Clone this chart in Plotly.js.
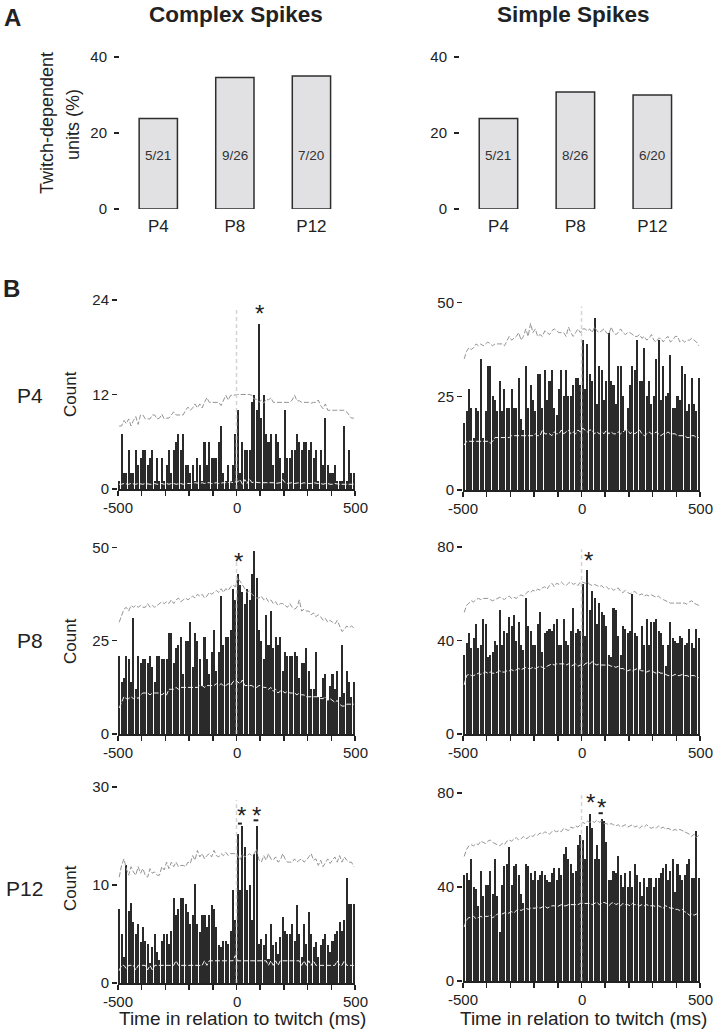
<!DOCTYPE html>
<html><head><meta charset="utf-8">
<script src="https://cdn.plot.ly/plotly-3.0.1.min.js"></script>
<style>html,body{margin:0;padding:0;background:#fff}#chart{width:713px;height:1032px}</style>
</head><body><div id="chart"></div>
<script>
// ---------- Panel A data ----------
const groups = ['P4', 'P8', 'P12'];
const csPercent = [23.8, 34.6, 35.0];
const ssPercent = [23.8, 30.8, 30.0];
const csFractions = ['5/21', '9/26', '7/20'];
const ssFractions = ['5/21', '8/26', '6/20'];

// ---------- Panel B data (10-ms bins from -500 to 500 ms) ----------
const firstBinCenter = -495, binWidth = 10;
const timeTicks = [-500, -400, -300, -200, -100, 0, 100, 200, 300, 400, 500];
const timeLabelVals = [-500, 0, 500];
const timeLabelText = ['-500', '0', '500'];

const csP4Counts = [
  1, 7, 2, 2, 5, 2, 2, 5, 3, 4,
  5, 5, 3, 4, 5, 1, 4, 1, 4, 1,
  3, 5, 2, 5, 6, 7, 5, 7, 3, 3,
  2, 3, 1, 4, 3, 1, 6, 3, 6, 4,
  4, 4, 6, 8, 2, 1, 3, 1, 3, 7,
  10, 2, 6, 5, 5, 5, 11, 12, 10, 21,
  9, 12, 7, 6, 7, 3, 7, 6, 4, 2,
  10, 4, 4, 5, 5, 7, 6, 5, 6, 6,
  5, 6, 4, 5, 1, 5, 3, 9, 3, 2,
  2, 3, 1, 1, 1, 8, 1, 5, 2, 2];
const csP4Upper = [
  8.0, 8.0, 8.7, 8.3, 8.9, 8.0, 8.7, 9.2, 8.2, 9.4,
  9.4, 8.9, 8.9, 8.9, 9.4, 9.4, 8.9, 9.0, 9.5, 8.9,
  9.0, 9.0, 9.4, 9.8, 9.4, 9.4, 9.4, 9.4, 10.0, 10.4,
  10.0, 10.3, 10.8, 10.3, 10.8, 10.3, 11.0, 11.6, 11.0, 11.0,
  11.0, 11.0, 11.0, 10.6, 11.2, 11.9, 11.3, 11.9, 11.9, 12.0,
  12.0, 12.0, 12.0, 12.0, 12.0, 12.0, 11.9, 11.4, 11.4, 11.0,
  11.3, 10.9, 11.4, 11.3, 11.6, 11.0, 11.0, 11.0, 11.0, 11.0,
  11.0, 11.0, 11.0, 11.3, 11.9, 11.2, 11.2, 11.0, 11.0, 11.0,
  11.0, 10.9, 11.0, 11.0, 11.3, 10.6, 10.2, 10.8, 10.0, 10.0,
  10.0, 10.0, 10.0, 10.0, 10.0, 10.0, 9.8, 9.4, 9.0, 9.0];
const csP4Lower = [
  0.6, 0.6, 0.7, 0.6, 0.6, 0.7, 0.6, 0.6, 0.7, 0.6,
  0.6, 0.7, 0.6, 0.6, 0.6, 0.7, 0.6, 0.6, 0.7, 0.6,
  0.7, 0.6, 0.7, 0.7, 0.6, 0.7, 0.7, 0.6, 0.7, 0.7,
  0.7, 0.7, 0.8, 0.7, 0.7, 0.8, 0.7, 0.8, 0.8, 0.7,
  0.8, 0.8, 0.7, 0.8, 0.8, 0.8, 0.8, 0.9, 0.8, 0.9,
  0.9, 1.2, 0.6, 1.2, 0.7, 1.3, 0.8, 0.9, 0.8, 0.8,
  0.8, 0.8, 0.8, 0.8, 0.8, 0.8, 0.7, 0.8, 0.8, 1.2,
  0.8, 0.7, 0.8, 0.8, 0.7, 0.8, 0.8, 0.7, 0.8, 0.7,
  0.7, 0.7, 0.8, 0.7, 0.7, 0.7, 0.6, 0.7, 0.7, 0.6,
  0.6, 0.7, 0.6, 0.6, 0.6, 0.6, 0.6, 0.6, 0.6, 0.6];

const ssP4Counts = [
  18, 21, 27, 22, 14, 22, 21, 35, 14, 21,
  33, 33, 25, 24, 21, 29, 21, 27, 22, 22,
  27, 22, 22, 30, 19, 16, 33, 22, 28, 24,
  21, 31, 31, 22, 32, 24, 29, 32, 22, 20,
  27, 32, 25, 32, 25, 25, 28, 30, 30, 28,
  40, 27, 39, 31, 29, 46, 23, 33, 32, 24,
  29, 42, 29, 28, 23, 33, 33, 25, 16, 22,
  28, 33, 32, 40, 29, 29, 38, 25, 29, 23,
  25, 35, 40, 24, 33, 25, 26, 36, 22, 22,
  25, 24, 33, 31, 21, 23, 30, 23, 21, 30];
const ssP4Upper = [
  35, 37, 38, 37.5, 38, 39, 38.5, 39, 38.5, 39,
  39.5, 39, 38.5, 39, 39, 39, 39, 38.5, 40, 41,
  40, 40.5, 41, 42, 40, 41, 43, 41, 44.5, 42,
  43, 41, 41.5, 41, 42.5, 42, 41.5, 42.5, 43, 42.5,
  42, 42, 42, 41, 43.5, 42, 41, 42, 43, 42,
  43, 43, 42.5, 43, 42, 43.5, 42.5, 42, 42.5, 43,
  42, 41.5, 43.5, 42, 41.5, 42, 43, 42, 41.5, 42,
  42, 41.5, 41, 41, 41.5, 40.5, 41, 40, 40.5, 41.5,
  40, 39.5, 40.5, 40.5, 39.5, 40.5, 41, 39.5, 40, 41,
  41, 39.5, 40, 39.5, 40, 40, 40.5, 40, 39.5, 38.5];
const ssP4Lower = [
  12, 13, 13, 13, 13, 13, 13, 12.8, 13, 13,
  13, 12.5, 13, 14, 14, 14, 14, 14, 14, 14,
  14.5, 14.5, 14.5, 14.5, 14.5, 14.5, 14.5, 14.5, 14.5, 14.5,
  15, 14.5, 14.5, 16, 15, 15, 15, 14.5, 15.5, 15,
  15, 16, 15, 15.5, 16, 15, 15.5, 15, 16, 15.5,
  16.5, 16, 15.5, 16, 16, 15, 15.5, 15, 15.5, 15,
  16, 15, 15.5, 15, 15, 15.5, 15, 15.5, 16, 16,
  15, 15.5, 15, 15.5, 16, 15, 14.5, 15, 15.5, 15,
  15, 15.5, 15, 14.5, 15, 15, 15.5, 15, 15, 15,
  14.5, 14.5, 14.5, 14.5, 14, 14, 14.5, 14.5, 14, 14];

const csP8Counts = [
  21, 14, 15, 21, 20, 14, 31, 12, 21, 19,
  20, 20, 19, 21, 18, 14, 21, 21, 20, 20,
  20, 27, 27, 19, 23, 24, 26, 16, 25, 25,
  30, 18, 27, 25, 20, 13, 26, 20, 16, 22,
  28, 17, 22, 37, 24, 26, 26, 28, 39, 36,
  43, 40, 38, 35, 39, 36, 43, 49, 42, 28,
  25, 20, 32, 24, 33, 23, 26, 24, 26, 17,
  22, 21, 21, 21, 22, 21, 15, 19, 19, 23,
  17, 12, 12, 22, 10, 10, 15, 16, 9, 13,
  16, 12, 17, 10, 24, 11, 17, 14, 10, 14];
const csP8Upper = [
  30, 32, 33.5, 34, 33, 34.5, 34, 34.5, 34, 34.5,
  34, 34, 35, 34, 34.5, 34, 34.5, 35, 35.5, 35,
  35.5, 35, 36, 35, 36, 36.5, 35.5, 36, 36.5, 36,
  36.5, 37, 36.5, 37.5, 37, 37.5, 36.5, 37, 38, 37.5,
  38, 38.5, 38, 39, 38, 39, 38.5, 39.5, 40, 39.5,
  42, 41, 40, 39, 38, 38.5, 37.5, 37, 36.5, 36.5,
  37, 36, 36.5, 35.5, 36, 35, 35.5, 34.5, 35, 35,
  34.5, 34, 35, 34, 33.5, 34, 36, 33, 33.5, 33,
  33, 32, 32.5, 31.5, 32, 31.5, 30.5, 31, 30, 30.5,
  30, 29.5, 30.5, 29, 27.5, 28, 29, 28.5, 29, 28.5];
const csP8Lower = [
  7, 8.5, 10, 9.5, 9.5, 10, 9.5, 10, 9.5, 10.5,
  11, 11, 11, 10.5, 11, 11, 11, 11, 10.5, 11,
  10.5, 12, 12, 12, 12.5, 12, 12.5, 12.5, 12.5, 12.5,
  12.5, 12.5, 12.5, 12.5, 13, 13, 12.5, 13, 13, 13,
  13, 13.5, 13, 13.5, 13, 13, 13.5, 13, 14, 14.5,
  14, 13.5, 14.5, 13, 13, 13, 13, 12.5, 12.5, 13,
  13, 12.5, 12.5, 12, 12.5, 11.5, 12, 11, 11.5, 11.5,
  11, 11.5, 11, 11, 11, 10.5, 11, 10.5, 10.5, 10,
  10, 10, 10, 10, 10, 9.5, 9.5, 10, 9, 9.5,
  9, 8.5, 9, 8, 7.5, 7.5, 8, 8, 8, 8];

const ssP8Counts = [
  34, 39, 43, 37, 41, 47, 37, 38, 49, 47,
  33, 34, 35, 40, 38, 53, 38, 44, 43, 50,
  46, 51, 40, 48, 38, 36, 58, 46, 44, 38,
  38, 47, 52, 35, 43, 44, 45, 44, 47, 49,
  38, 38, 49, 40, 38, 44, 54, 43, 45, 44,
  64, 42, 70, 53, 61, 58, 47, 56, 52, 51,
  46, 34, 33, 54, 53, 42, 34, 46, 45, 43,
  44, 60, 43, 42, 28, 46, 38, 49, 38, 48,
  48, 49, 44, 43, 38, 29, 38, 48, 41, 40,
  39, 42, 41, 38, 39, 45, 39, 37, 45, 41];
const ssP8Upper = [
  52, 55, 56, 57, 56.5, 57.5, 58, 57.5, 58, 58,
  58, 57.5, 57, 57.5, 58, 58.5, 58, 57.5, 58.5, 59,
  58, 58.5, 58, 59, 59.5, 59, 60, 61, 60.5, 61.5,
  61, 62, 61.5, 62.5, 63, 62, 63.5, 64.5, 63, 64.5,
  64, 65, 64, 63.5, 64.5, 65, 64, 64.5, 63.5, 65,
  65, 64.5, 65, 64, 63.5, 64, 63.5, 63, 63.5, 62.5,
  63, 62, 62.5, 61.5, 62, 62.5, 61, 60.5, 61.5, 60.5,
  60, 60.5, 61, 60, 59.5, 60, 59, 59.5, 59, 59.5,
  59, 58.5, 59, 58, 57.5, 57, 56.5, 56, 56, 56,
  56, 56, 56, 56, 55.5, 56.5, 57, 56, 55.5, 55];
const ssP8Lower = [
  21, 25, 25.5, 25, 25, 25.5, 26, 25.5, 26, 26.5,
  26, 26.5, 26, 26, 26.5, 27, 26.5, 26.5, 27, 27,
  27.5, 27, 27.5, 28, 27.5, 28, 28.5, 28, 28, 28.5,
  28, 28.5, 29, 28.5, 28, 29, 29.5, 30, 29.5, 30,
  30, 30, 30, 29.5, 30, 29, 29.5, 30, 29, 29.5,
  29, 30, 30.5, 30, 31, 30, 29.5, 30, 29.5, 29.5,
  29.5, 29.5, 29, 29, 28.5, 29, 28, 28, 27.5, 27,
  27.5, 27, 27.5, 28, 27.5, 27, 27, 26.5, 27, 27,
  26.5, 26, 26.5, 26, 26, 25.5, 25, 25, 25, 25.5,
  25, 25, 25.5, 25, 25, 24.5, 25, 25, 24.5, 24];

const csP12Counts = [
  11.4, 7.5, 4, 18, 11, 12.2, 9.3, 7.5, 9, 6.3,
  8.6, 6.5, 6, 3, 5.5, 7.5, 4.7, 3.5, 6.5, 7.5,
  7.5, 6, 8, 13, 10.4, 11.4, 13, 13, 12.1, 10.9,
  9, 10.4, 15.2, 9, 7.8, 10.4, 10.4, 8.6, 10.4, 12,
  11.4, 8.6, 5.8, 5.5, 6.5, 6.5, 6, 8, 14.2, 9.6,
  22.8, 14.2, 24, 20.8, 14.2, 15, 9.6, 19.8, 24, 6,
  6.8, 5.8, 7.5, 3.7, 9.1, 5.8, 6.3, 4.5, 7.1, 10.1,
  8, 7.5, 7.5, 9, 6.5, 12, 7.5, 4, 9, 6,
  10.9, 7.5, 5.5, 6.3, 4, 5.8, 6.8, 7.5, 5.8, 4.7,
  6.5, 7.5, 8, 9.3, 8, 9.6, 16.1, 12.1, 12.1, 12.1];
const csP12Upper = [
  16.2, 18, 19, 17.5, 16.5, 17.8, 17, 16.5, 17.8, 16.8,
  17.5, 16.5, 16.2, 17.5, 16.8, 17, 16.5, 16.5, 17.8, 17.3,
  18.5, 17.5, 18.5, 17.8, 18.5, 17.8, 18, 18, 17.8, 18.5,
  18.3, 19.5, 18.8, 20.3, 19.3, 19.8, 19, 19.5, 19.8, 19.3,
  20.3, 19.5, 19.3, 19.8, 19.5, 20, 19.5, 19.8, 19.8, 19.8,
  19.5, 18.8, 19.8, 19.3, 19.5, 19.8, 19.5, 19.8, 20.5, 18.8,
  18.5, 19.5, 18.8, 19.8, 19, 18.8, 19.3, 18.5, 18.8, 19.8,
  19, 18.5, 18.5, 18.5, 19, 18.5, 18.8, 19, 18.5, 18.8,
  19.3, 19.8, 18.8, 19, 18, 18.8, 17.8, 18.5, 19, 18.3,
  18.8, 19.3, 18.5, 19.5, 18.5, 19.3, 18.8, 18.5, 18.5, 17.8];
const csP12Lower = [
  1.9, 2.7, 2.7, 2.2, 2.7, 2.7, 2.7, 2, 2.7, 2.7,
  2.7, 2.7, 2, 2.7, 2, 2.7, 2.7, 2.7, 2.7, 2.7,
  2.7, 2.7, 2.7, 2.7, 3.4, 2.7, 2.7, 2.7, 2.7, 2.7,
  2.7, 2.7, 2.7, 2.7, 2.7, 2.7, 3.4, 2.7, 3.4, 3.4,
  3.4, 3.4, 3.4, 3.4, 3.4, 3.4, 3.4, 3.4, 3.4, 4.2,
  3.4, 3.4, 3.4, 3.4, 3.4, 3.4, 3.4, 3.4, 3.4, 3.4,
  3.4, 3.4, 3.4, 2.7, 3.4, 2.7, 3.4, 2.7, 3.4, 3.4,
  3.4, 3.4, 3.4, 3.4, 3.4, 3.4, 3.4, 2.7, 3.4, 2.7,
  3.4, 2.7, 3.4, 2.7, 2.7, 2.7, 2.7, 2.7, 2.7, 2.7,
  2.7, 2.7, 3.4, 2.7, 2.7, 3.4, 2.7, 2.7, 2.7, 2.7];

const ssP12Counts = [
  45, 46, 43, 52, 40, 39, 32, 47, 36, 41,
  41, 47, 37, 52, 36, 21, 41, 49, 50, 57,
  41, 49, 50, 45, 37, 33, 50, 49, 46, 43,
  47, 43, 45, 47, 45, 43, 42, 46, 48, 43,
  48, 45, 54, 57, 52, 50, 46, 47, 58, 62,
  60, 52, 66, 71, 65, 52, 58, 52, 69, 68,
  59, 43, 43, 47, 46, 53, 45, 40, 46, 40,
  47, 40, 50, 45, 42, 36, 44, 40, 44, 44,
  40, 44, 44, 46, 48, 50, 43, 47, 52, 38,
  50, 45, 43, 45, 50, 52, 44, 44, 64, 44];
const ssP12Upper = [
  53, 56, 57.5, 58, 57.5, 58.5, 58, 59.5, 59, 58.5,
  59.5, 60, 59, 58.5, 58, 57.5, 58.5, 58, 59.5, 60,
  59.5, 60.5, 61, 60, 60.5, 61.5, 60.5, 61, 62, 61.5,
  62.5, 62, 63, 62.5, 63.5, 63, 62.5, 63.5, 64, 63.5,
  64, 63.5, 65, 64.5, 64, 65.5, 65, 66, 65.5, 66.5,
  67.5, 67, 68, 67.5, 68, 67.5, 68.5, 67.5, 68, 67,
  67, 66.5, 67, 66.5, 66, 66.5, 65.5, 66, 66.5, 65.5,
  66, 66.5, 65.5, 66, 65, 66, 65.5, 66.5, 65.5, 65,
  65.5, 65, 66, 65, 65.5, 64.5, 65, 64.5, 64, 64.5,
  64, 64.5, 64, 63.5, 63, 62.5, 61.5, 62.5, 61, 62];
const ssP12Lower = [
  23, 26, 27, 27, 27.5, 26.5, 27, 27.5, 27, 27.5,
  27.5, 28, 27, 27.5, 28.5, 28, 28.5, 29, 28.5, 29,
  29.5, 29, 30, 30.5, 30, 30.5, 31, 30.5, 31, 31,
  31, 31.5, 31, 31.5, 32, 31, 31.5, 32, 32, 31.5,
  32, 32.5, 32, 32, 32.5, 32.5, 32.5, 32.5, 32.5, 33,
  33, 33, 33, 33, 32.5, 33, 33.5, 32.5, 33, 33.5,
  33, 32, 33, 33.5, 32.5, 33, 32, 33, 32.5, 32.5,
  32, 33, 32.5, 32.5, 32, 32.5, 32, 32.5, 32, 32,
  32, 31.5, 32, 31.5, 31, 32, 31.5, 31, 31, 30.5,
  30.5, 30, 30.5, 29.5, 29, 28, 28.5, 28, 28.5, 29];

// ---------- Layout helpers (pixel -> paper) ----------
const W = 713, H = 1032;
const FONT = 'Liberation Sans, Arial, Helvetica, sans-serif';
const INK = '#222222';
const px = v => v / W;
const py = v => 1 - v / H;

const traces = [];
function addBars(idx, x, y) {
  traces.push({type: 'bar', x: x, y: y, width: 0.5, xaxis: 'x' + idx, yaxis: 'y' + idx,
    marker: {color: '#e1e1e3', line: {color: '#2e2e2e', width: 1.5}}, hoverinfo: 'skip', showlegend: false});
}
function addHist(idx, counts, upper, lower) {
  const ax = {xaxis: 'x' + idx, yaxis: 'y' + idx, showlegend: false, hoverinfo: 'skip'};
  traces.push(Object.assign({type: 'bar', x0: firstBinCenter, dx: binWidth, y: counts, width: 8.6,
    marker: {color: '#2a2a2a', line: {width: 0}}}, ax));
  traces.push(Object.assign({type: 'scatter', mode: 'lines', x0: firstBinCenter, dx: binWidth, y: upper,
    line: {color: '#949494', width: 1, dash: '5px,2px'}}, ax));
  traces.push(Object.assign({type: 'scatter', mode: 'lines', x0: firstBinCenter, dx: binWidth, y: lower,
    line: {color: '#f2f2f2', width: 1, dash: '5px,2px'}}, ax));
}
addBars(1, groups, csPercent);
addBars(2, groups, ssPercent);
addHist(3, csP4Counts, csP4Upper, csP4Lower);
addHist(4, ssP4Counts, ssP4Upper, ssP4Lower);
addHist(5, csP8Counts, csP8Upper, csP8Lower);
addHist(6, ssP8Counts, ssP8Upper, ssP8Lower);
addHist(7, csP12Counts, csP12Upper, csP12Lower);
addHist(8, ssP12Counts, ssP12Upper, ssP12Lower);

const layout = {
  width: W, height: H, margin: {l: 0, r: 0, t: 0, b: 0},
  paper_bgcolor: '#ffffff', plot_bgcolor: 'rgba(0,0,0,0)',
  font: {family: FONT, color: INK},
  showlegend: false, bargap: 0,
  annotations: [], shapes: []
};

function barAxes(idx, x0, x1, yTop, yBot) {
  layout['xaxis' + idx] = {domain: [px(x0), px(x1)], range: [-0.5, 2.36], anchor: 'y' + idx,
    showline: false, ticks: '', showgrid: false, zeroline: false,
    tickfont: {size: 17, color: INK}, ticklabelstandoff: 5, fixedrange: true};
  layout['yaxis' + idx] = {domain: [py(yBot), py(yTop)], range: [0, 40], anchor: 'x' + idx,
    tickvals: [0, 20, 40], ticks: 'outside', ticklen: 5, tickwidth: 1.3, tickcolor: INK, ticklabelstandoff: 4,
    showline: false, showgrid: false, zeroline: false, tickfont: {size: 15, color: INK}, fixedrange: true};
}
barAxes(1, 120, 339, 57, 209);
barAxes(2, 460, 680, 57, 209);

function histAxes(idx, x0, x1, yTop, yBot, yMax, tv, tt) {
  layout['xaxis' + idx] = {domain: [px(x0), px(x1)], range: [-500, 500], anchor: 'y' + idx,
    showline: true, linecolor: INK, linewidth: 1.5, ticks: 'outside', ticklen: 5, tickwidth: 1.5, tickcolor: INK,
    tickvals: timeTicks, showticklabels: false,
    showgrid: false, zeroline: false, fixedrange: true};
  layout['yaxis' + idx] = {domain: [py(yBot), py(yTop)], range: [0, yMax], anchor: 'x' + idx,
    tickvals: tv, ticktext: tt, ticks: 'outside', ticklen: 5, tickwidth: 1.3, tickcolor: INK,
    showline: false, showgrid: false, zeroline: false, tickfont: {size: 15, color: INK}, fixedrange: true};
  // time tick labels, set just under the ticks
  timeLabelVals.forEach((v, i) => {
    layout.annotations.push({text: timeLabelText[i], x: v, y: py(yBot + 18), xref: 'x' + idx, yref: 'paper',
      showarrow: false, xanchor: 'center', yanchor: 'middle', font: {size: 15, color: INK, family: FONT}});
  });
}
histAxes(3, 118, 355, 300, 489, 24, [0, 12, 24], ['0', '12', '24']);
histAxes(4, 463, 700, 302.7, 490, 50, [0, 25, 50], ['0', '25', '50']);
histAxes(5, 118, 355, 547.7, 734, 50, [0, 25, 50], ['0', '25', '50']);
histAxes(6, 463, 700, 547, 734, 80, [0, 40, 80], ['0', '40', '80']);
histAxes(7, 118, 355, 787, 983, 30, [0, 15, 30], ['0', '10', '30']);
histAxes(8, 463, 700, 793, 981, 80, [0, 40, 80], ['0', '40', '80']);

// Text labels (paper)
function label(text, x, y, size, opts) {
  layout.annotations.push(Object.assign({text: text, x: px(x), y: py(y), xref: 'paper', yref: 'paper',
    showarrow: false, xanchor: 'center', yanchor: 'middle', font: {size: size, color: INK, family: FONT}}, opts || {}));
}
label('<b>A</b>', 12, 17, 24);
label('<b>B</b>', 11, 288, 24);
label('<b>Complex Spikes</b>', 236, 14, 22.5);
label('<b>Simple Spikes</b>', 573, 14, 22.5);
label('Twitch-dependent', 47, 123, 18, {textangle: -90});
label('units (%)', 73, 125, 18, {textangle: -90});
label('P4', 30, 395, 21);
label('P8', 30, 640, 21);
label('P12', 24, 888, 21);
label('Count', 70, 394, 17, {textangle: -90});
label('Count', 70, 641, 17, {textangle: -90});
label('Count', 70, 888, 17, {textangle: -90});
label('Time in relation to twitch (ms)', 242, 1018, 19);
label('Time in relation to twitch (ms)', 583, 1018, 19);

// Fractions inside panel-A bars
groups.forEach((g, i) => {
  layout.annotations.push({text: csFractions[i], x: g, y: 14.2, xref: 'x1', yref: 'y1', showarrow: false,
    font: {size: 13.5, color: '#333', family: FONT}});
  layout.annotations.push({text: ssFractions[i], x: g, y: 14.2, xref: 'x2', yref: 'y2', showarrow: false,
    font: {size: 13.5, color: '#333', family: FONT}});
});

// Twitch onset lines and significance markers
function onset(idx, top) {
  layout.shapes.push({type: 'line', xref: 'x' + idx, yref: 'y' + idx, x0: 0, x1: 0, y0: 0, y1: top,
    line: {color: '#d4d4d4', width: 1.5, dash: '4px,3px'}, layer: 'above'});
}
function star(idx, x, y) {
  layout.annotations.push({text: '*', x: x, y: y, xref: 'x' + idx, yref: 'y' + idx, showarrow: false,
    yshift: -6, font: {size: 24, color: INK, family: FONT}});
}
function sigBar(idx, x0, x1, y, dash) {
  layout.shapes.push({type: 'line', xref: 'x' + idx, yref: 'y' + idx, x0: x0, x1: x1, y0: y, y1: y,
    line: {color: INK, width: 2, dash: dash || 'solid'}, layer: 'above'});
}
onset(3, 23); onset(4, 49); onset(5, 47.5); onset(6, 79); onset(7, 28); onset(8, 79);
star(3, 98, 23);
star(4, 56, 50.7);
star(5, 9, 48); star(5, 74, 53.8); sigBar(5, 55, 95, 51.3);
star(6, 28, 77);
star(7, 20, 26.5); sigBar(7, 6, 30, 24.4, '4px,3px'); star(7, 84, 26.5); sigBar(7, 72, 92, 24.9);
star(8, 38, 78.6); star(8, 85, 76.3); sigBar(8, 72, 90, 71.4);

Plotly.newPlot('chart', traces, layout, {staticPlot: true, displayModeBar: false});
</script>
</body></html>
